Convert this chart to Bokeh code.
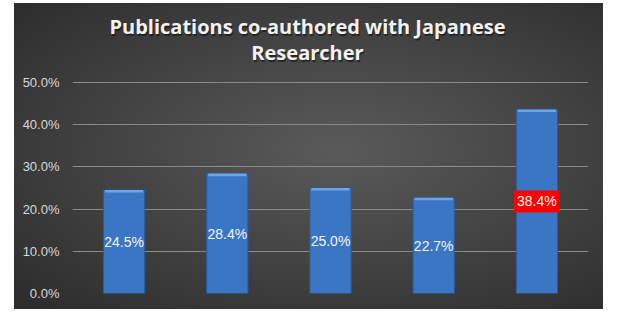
from bokeh.plotting import figure
from bokeh.models import Range1d, FixedTicker, NumeralTickFormatter, Label, ColumnDataSource
from bokeh.core.properties import value
from bokeh.embed import file_html
from bokeh.resources import INLINE

# data
categories = ["A", "B", "C", "D", "E"]
bar_values = [0.245, 0.284, 0.250, 0.227, 0.436]
bar_labels = ["24.5%", "28.4%", "25.0%", "22.7%", "38.4%"]
label_highlight = [0, 0, 0, 0, 1]
y_ticks = [0.0, 0.1, 0.2, 0.3, 0.4, 0.5]
title_lines = ["Publications co-authored with Japanese", "Researcher"]

xs = list(range(1, len(categories) + 1))
src = ColumnDataSource(dict(
    x=xs,
    top=bar_values,
    bevel=[v - 0.006 for v in bar_values],
    mid=[v / 2 for v in bar_values],
    lab=bar_labels,
    hl=label_highlight,
))

p = figure(width=589, height=306, output_backend="svg", toolbar_location=None,
           x_range=Range1d(0.5, 5.5), y_range=Range1d(0, 0.687),
           min_border_left=58, min_border_right=15, min_border_top=0, min_border_bottom=16)
p.margin = (3, 0, 0, 14)
p.background_fill_color = None
p.border_fill_color = None
p.outline_line_color = None
p.styles = {"background": "radial-gradient(ellipse at 55% 48%, #5a5a5a 0%, #4a4a4a 35%, #2b2b2b 100%)"}

p.xaxis.visible = False
p.xgrid.visible = False

p.yaxis.ticker = FixedTicker(ticks=y_ticks)
p.yaxis.formatter = NumeralTickFormatter(format="0.0%")
p.yaxis.axis_line_color = None
p.yaxis.major_tick_line_color = None
p.yaxis.minor_tick_line_color = None
p.yaxis.major_tick_out = 0
p.yaxis.major_label_standoff = 13
p.yaxis.major_label_text_color = "#d9d9d9"
p.yaxis.major_label_text_font = "Liberation Sans"
p.yaxis.major_label_text_font_size = "13px"

p.ygrid.ticker = FixedTicker(ticks=y_ticks)
p.ygrid.grid_line_color = "#8a8a8a"
p.ygrid.grid_line_width = 1

# bars
p.vbar(x="x", top="top", bottom=0, width=0.4, source=src,
       fill_color="#3b76c4", line_color="#2b5a98", line_width=1)
p.vbar(x="x", top="top", bottom="bevel", width=0.37, source=src,
       fill_color="#6ea4e8", line_color=None)

# value labels
p.text(x="x", y="mid", text="lab", source=src,
       text_align="center", text_baseline="middle",
       text_color="#f2f2f2", text_font=value("Liberation Sans"), text_font_size="14px",
       background_fill_color="#ff0000", background_fill_alpha="hl", padding=3)

# title
for i, (t, yy) in enumerate(zip(title_lines, [0.632, 0.570])):
    shadow = Label(x=2.777, y=yy, text=t, text_align="center", text_baseline="middle",
                   text_color="#111111", text_alpha=0.6, x_offset=1, y_offset=-1.5,
                   text_font="Open Sans", text_font_style="bold", text_font_size="20px")
    lab = Label(x=2.777, y=yy, text=t, text_align="center", text_baseline="middle",
                text_color="#f2f2f2",
                text_font="Open Sans", text_font_style="bold", text_font_size="20px")
    p.add_layout(shadow)
    p.add_layout(lab)

open("out.html", "w").write(file_html(p, INLINE))
